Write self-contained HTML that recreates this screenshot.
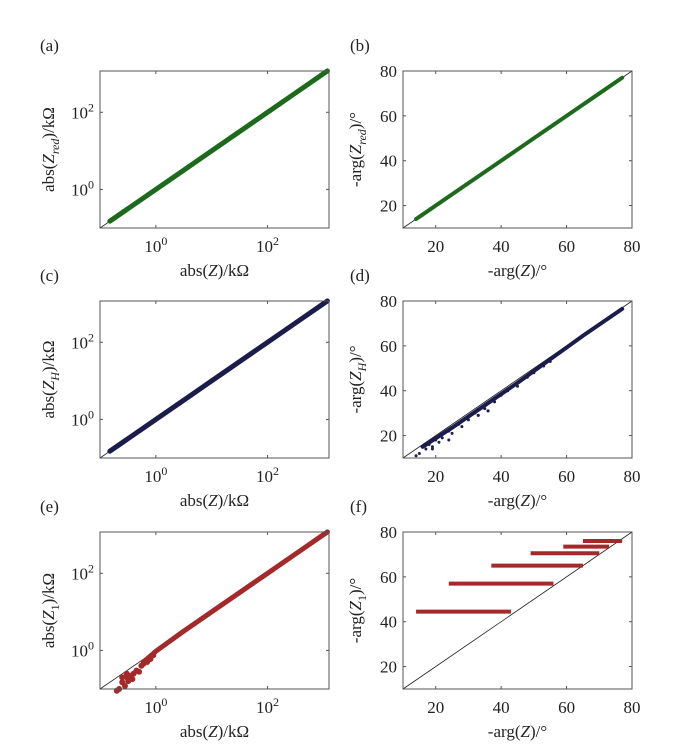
<!DOCTYPE html>
<html><head><meta charset="utf-8"><style>
body{margin:0;background:#fff}
svg{display:block;font-family:"Liberation Serif",serif;}
text{fill:#222;font-size:17px}
</style></head><body>
<svg id="fig" width="673" height="746" viewBox="0 0 673 746"></svg>
<script>
// ---- data ----
const aX=[0.15,0.3,1,3,10,30,100,300,1000,1180];
const aY=[0.15,0.3,1,3,10,30,100,300,1000,1180];
const bX=[14,16,20,30,40,50,60,70,77];
const bY=[14,16,20,30,40,50,60,70,77];
const cX=[0.15,0.3,1,3,10,30,100,300,1000,1180];
const cY=[0.15,0.3,1,3,10,30,100,300,1000,1180];
const dLineX=[16,25,35,45,55,65,77];
const dLineY=[15,23.5,33.5,43.5,54,64.5,76.5];
const dX=[14,15,17,18,19,20,22,24,25,27,28,30,32,33,35,36,38,40,42,45,48,50,53,55,58,24,33,36,19,21];
const dY=[11,12,14,16,15,18,19,22,21,25,24,27,30,29,32,31,35,38,40,42,46,48,51,53,57,18,29,31,14,17];
const eLineX=[0.6,1,3,10,30,100,300,1000,1180];
const eLineY=[0.5,0.95,3,10,30,100,300,1000,1180];
const eX=[0.2,0.22,0.25,0.28,0.3,0.32,0.35,0.4,0.45,0.5,0.55,0.6,0.7,0.8,0.9,0.25,0.3,0.38];
const eY=[0.09,0.1,0.15,0.12,0.2,0.16,0.22,0.25,0.3,0.28,0.4,0.45,0.5,0.6,0.75,0.2,0.25,0.18];
const fLevel=[44.5,57,65,70.5,73.5,76];
const fStart=[14,24,37,49,59,65];
const fEnd=[43,56,65,70,73,77];
const linTicks=[20,40,60,80];
const logTicks=[0,2];

const NS="http://www.w3.org/2000/svg";
const svg=document.getElementById('fig');
function mk(tag,attrs,parent){const e=document.createElementNS(NS,tag);for(const k in attrs)e.setAttribute(k,attrs[k]);(parent||svg).appendChild(e);return e;}

function panel(id,x0,y0,isLog,color,ylab,build){
  const x1=x0+229, y1=y0+157;
  const g=mk('g',{});
  
  
  let sx,sy;
  if(isLog){const lo=-1,hx=3.1,hy=3.07;
    sx=v=>x0+(Math.log10(v)-lo)/(hx-lo)*(x1-x0);
    sy=v=>y1-(Math.log10(v)-lo)/(hy-lo)*(y1-y0);
  }else{
    sx=v=>x0+(v-10)/70*(x1-x0);
    sy=v=>y1-(v-10)/70*(y1-y0);
  }
  // diagonal
  const diag=mk('line',{x1:x0,y1:y1,x2:x1,y2:y0,stroke:'#222','stroke-width':0.8},g);
  
  
  build(g,sx,sy,color);
  const box=mk('rect',{x:x0,y:y0,width:x1-x0,height:y1-y0,fill:'none',stroke:'#555','stroke-width':1},g);
  
  
  // ticks
  const tv=isLog?logTicks.map(p=>Math.pow(10,p)):linTicks;
  tv.forEach((v,i)=>{
    const px=sx(v),py=sy(v);
    mk('line',{x1:px,y1:y1,x2:px,y2:y1-3,stroke:'#555'},g);
    mk('line',{x1:px,y1:y0,x2:px,y2:y0+3,stroke:'#555'},g);
    mk('line',{x1:x0,y1:py,x2:x0+3,y2:py,stroke:'#555'},g);
    mk('line',{x1:x1,y1:py,x2:x1-3,y2:py,stroke:'#555'},g);
    let t=mk('text',{x:px,y:y1+24,'text-anchor':'middle'},g);
    
    
    let t2=mk('text',{x:x0-6,y:py+6,'text-anchor':'end'},g);
    
    
    if(isLog){
      [t,t2].forEach(tt=>{tt.appendChild(document.createTextNode('10'));const s=mk('tspan',{dy:-7,'font-size':12},tt);s.textContent=String(logTicks[i]);});
    }else{t.textContent=String(v);t2.textContent=String(v);}
  });
  const xt=mk('text',{x:(x0+x1)/2,y:y1+48,'text-anchor':'middle'},g);
  
  
  xt.innerHTML=isLog?'abs(<tspan font-style="italic">Z</tspan>)/kΩ':'-arg(<tspan font-style="italic">Z</tspan>)/°';
  const yx=isLog?x0-46:x0-42;
  const yt=mk('text',{x:yx,y:(y0+y1)/2,'text-anchor':'middle',transform:`rotate(-90 ${yx} ${(y0+y1)/2})`},g);
  
  
  yt.innerHTML=ylab;
  const lab=mk('text',{x:isLog?x0-60:x0-53,y:y0-20},g);
  
  
  lab.textContent='('+id+')';
}
function band(g,xs,ys,sx,sy,color,w){
  const p=mk('polyline',{points:xs.map((v,i)=>sx(v)+','+sy(ys[i])).join(' '),fill:'none',stroke:color,'stroke-width':w,'stroke-linecap':'round'},g);
  
  
}
function dots(g,xs,ys,sx,sy,color,r){
  xs.forEach((v,i)=>{const c=mk('circle',{cx:sx(v),cy:sy(ys[i]),r:r,fill:color},g);
    
    });
}
const G='#1d6a1d',B='#1c1c4c',R='#a3292a';
const sub=(a,b,c)=>`${a}(<tspan font-style="italic">Z</tspan><tspan font-size="12" dy="5" font-style="${c}">${b}</tspan><tspan dy="-5">)</tspan>`;
panel('a',100,71,true,G,sub('abs','red','italic')+'/kΩ',(g,sx,sy,c)=>band(g,aX,aY,sx,sy,c,5));
panel('b',403,71,false,G,'-'+sub('arg','red','italic')+'/°',(g,sx,sy,c)=>band(g,bX,bY,sx,sy,c,4));
panel('c',100,301,true,B,sub('abs','H','italic')+'/kΩ',(g,sx,sy,c)=>band(g,cX,cY,sx,sy,c,5));
panel('d',403,301,false,B,'-'+sub('arg','H','italic')+'/°',(g,sx,sy,c)=>{band(g,dLineX,dLineY,sx,sy,c,4);dots(g,dX,dY,sx,sy,c,1.5);});
panel('e',100,532,true,R,sub('abs','1','normal')+'/kΩ',(g,sx,sy,c)=>{band(g,eLineX,eLineY,sx,sy,c,5);dots(g,eX,eY,sx,sy,c,3);});
panel('f',403,532,false,R,'-'+sub('arg','1','normal')+'/°',(g,sx,sy,c)=>{
  fLevel.forEach((lv,i)=>{const l=mk('line',{x1:sx(fStart[i]),y1:sy(lv),x2:sx(fEnd[i]),y2:sy(lv),stroke:c,'stroke-width':4,'stroke-dasharray':i>0?'none':'none'},g);
    
    });
});
</script>
</body></html>
